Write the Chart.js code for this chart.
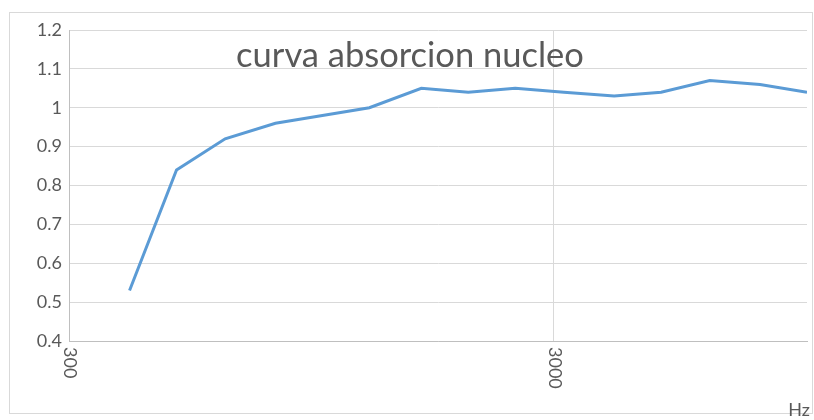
<!DOCTYPE html>
<html>
<head>
<meta charset="utf-8">
<script src="https://cdn.jsdelivr.net/npm/chart.js@4/dist/chart.umd.min.js"></script>
<style>
  html, body { margin: 0; padding: 0; background: #fff; }
  #wrap { width: 814px; height: 420px; position: relative; }
</style>
</head>
<body>
<div id="wrap"><canvas id="absChart" width="814" height="420"></canvas></div>
<script>
const frequencies = [400, 500, 630, 800, 1000, 1250, 1600, 2000, 2500, 3150, 4000, 5000, 6300, 8000, 10000];
const absorption = [0.53, 0.84, 0.92, 0.96, 0.98, 1.0, 1.05, 1.04, 1.05, 1.04, 1.03, 1.04, 1.07, 1.06, 1.04];
const xTicks = [300, 3000];
const chartTitle = "curva absorcion nucleo";
const xAxisTitle = "Hz";

const textColor = "#595959";
const fontFamily = "Lato, 'Open Sans', sans-serif";

// frame, title, rotated x labels and axis title
const decorations = {
  id: "decorations",
  beforeDraw(chart) {
    const ctx = chart.ctx;
    ctx.save();
    ctx.fillStyle = "#fff";
    ctx.fillRect(0, 0, chart.width, chart.height);
    ctx.strokeStyle = "#d9d9d9";
    ctx.lineWidth = 1;
    ctx.strokeRect(9.5, 12.5, 803, 401);
    ctx.restore();
  },
  afterDraw(chart) {
    const ctx = chart.ctx;
    const xs = chart.scales.x;
    ctx.save();
    ctx.fillStyle = textColor;

    ctx.font = "18px " + fontFamily;
    ctx.textAlign = "left";
    ctx.textBaseline = "middle";
    xTicks.forEach(v => {
      const px = xs.getPixelForValue(v);
      ctx.save();
      ctx.translate(px + 1, chart.chartArea.bottom + 6);
      ctx.rotate(Math.PI / 2);
      ctx.fillText(String(v), 0, 0);
      ctx.restore();
    });

    ctx.textAlign = "right";
    ctx.textBaseline = "alphabetic";
    ctx.fillText(xAxisTitle, 810, 416);

    ctx.font = "34.5px " + fontFamily;
    ctx.textAlign = "center";
    ctx.fillText(chartTitle, 410, 67);
    ctx.restore();
  }
};

new Chart(document.getElementById("absChart"), {
  type: "line",
  data: {
    datasets: [{
      data: frequencies.map((f, i) => ({ x: f, y: absorption[i] })),
      borderColor: "#5b9bd5",
      borderWidth: 3,
      pointRadius: 0,
      tension: 0,
      fill: false
    }]
  },
  options: {
    responsive: false,
    animation: false,
    layout: { padding: { left: 0, top: 30, right: 7, bottom: 0 } },
    plugins: {
      legend: { display: false },
      tooltip: { enabled: false }
    },
    scales: {
      x: {
        type: "logarithmic",
        min: 300,
        max: 10000,
        afterBuildTicks: s => { s.ticks = xTicks.map(v => ({ value: v })); },
        afterFit: s => { s.height = 79; },
        ticks: { display: false },
        grid: { color: "#d9d9d9", drawTicks: false },
        border: { color: "#bfbfbf", width: 1 }
      },
      y: {
        min: 0.4,
        max: 1.2,
        afterFit: s => { s.width = 69; },
        ticks: {
          stepSize: 0.1,
          padding: 7,
          color: textColor,
          font: { family: fontFamily, size: 18 },
          callback: v => String(Math.round(v * 10) / 10)
        },
        grid: { color: "#d9d9d9", drawTicks: false },
        border: { color: "#bfbfbf", width: 1 }
      }
    }
  },
  plugins: [decorations]
});
</script>
</body>
</html>
